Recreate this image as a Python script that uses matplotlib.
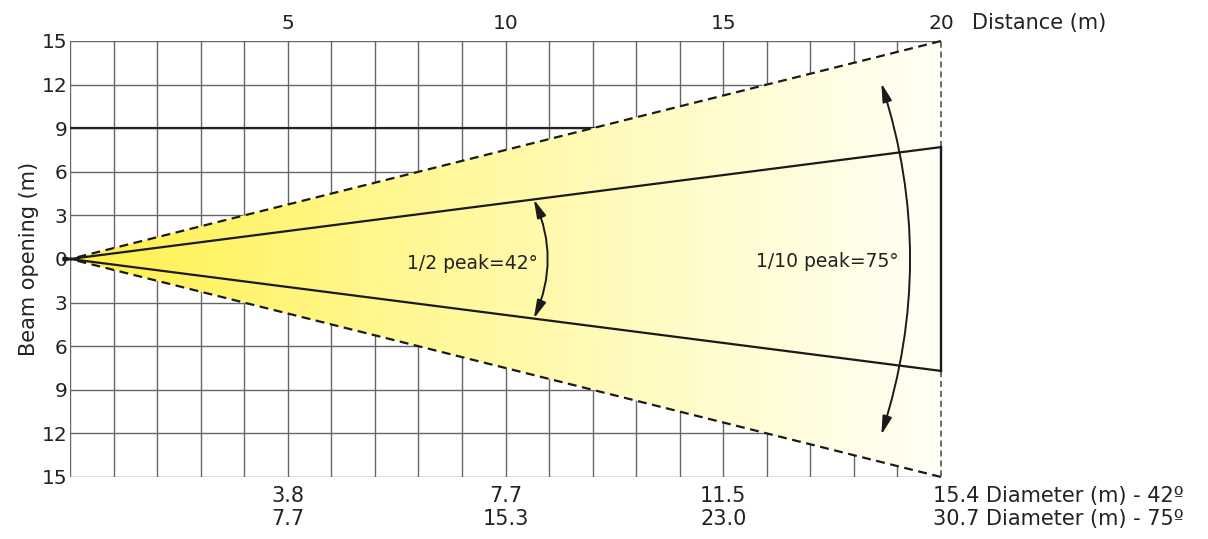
import numpy as np
import matplotlib
matplotlib.use("Agg")
import matplotlib.pyplot as plt
from matplotlib.patches import Polygon, FancyArrowPatch
from matplotlib.colors import LinearSegmentedColormap
from matplotlib.transforms import ScaledTranslation

# values
distance_ticks = [5, 10, 15, 20]
diam_42 = [3.8, 7.7, 11.5, 15.4]
diam_75 = [7.7, 15.3, 23.0, 30.7]
y_ticks = [15, 12, 9, 6, 3, 0, -3, -6, -9, -12, -15]
max_dist = 20
half_inner = 7.7     # 1/2 peak edge at 20 m
half_outer = 15.0    # 1/10 peak edge at 20 m (as drawn)
arc42_x, arc42_y = 10.65, 4.1
arc75_x, arc75_y = 18.63, 12.1

plt.rcParams['font.family'] = ['DejaVu Sans']
fs = 14.5
fs_big = 15
txt_c = '#222222'

fig = plt.figure(figsize=(12.08, 5.39), dpi=100)
ax = fig.add_axes([70 / 1208, 62 / 539, 871 / 1208, 436 / 539])
ax.set_xlim(0, max_dist)
ax.set_ylim(-15, 15)


def offset(dx_px, dy_px):
    return ax.transData + ScaledTranslation(dx_px / 100, dy_px / 100,
                                            fig.dpi_scale_trans)


grid_c = '#666666'
for x in range(0, max_dist):
    ax.axvline(x, color=grid_c, lw=1.0, zorder=1)
for y in y_ticks:
    ax.axhline(y, color=grid_c, lw=1.0, zorder=1)
ax.hlines(9, 0, max_dist, color='#222222', lw=1.6, zorder=1.5)

# gradient fill inside the cone
cmap = LinearSegmentedColormap.from_list(
    'beam', ['#fff04a', '#fff78a', '#fffbc2', '#fffff6'])
grad = np.linspace(0, 1, 256).reshape(1, -1)
im = ax.imshow(grad, cmap=cmap, extent=[0, max_dist, -15, 15],
               aspect='auto', zorder=2, interpolation='bilinear')
cone = Polygon([(0, 0), (max_dist, half_outer), (max_dist, -half_outer)],
               closed=True, facecolor='none', edgecolor='none')
ax.add_patch(cone)
im.set_clip_path(cone)

# beam edges
x0 = -0.15
for s in (1, -1):
    ax.plot([x0, max_dist], [s * half_outer * x0 / max_dist, s * half_outer],
            color='#1a1a1a', lw=1.6, ls=(0, (4, 2.5)), zorder=4, clip_on=False)
    ax.plot([x0, max_dist], [s * half_inner * x0 / max_dist, s * half_inner],
            color='#1a1a1a', lw=1.6, zorder=4, clip_on=False)
    ax.plot([max_dist, max_dist], [s * half_inner, s * half_outer],
            color='#444444', lw=1.1, ls=(0, (4, 2.5)), zorder=4, clip_on=False)
ax.plot([max_dist, max_dist], [-half_inner, half_inner],
        color='#1a1a1a', lw=1.7, zorder=4, clip_on=False)

# angle arrows
for (ax_x, ax_y, rad) in ((arc42_x, arc42_y, 0.22), (arc75_x, arc75_y, 0.16)):
    arr = FancyArrowPatch((ax_x, -ax_y), (ax_x, ax_y),
                          connectionstyle=f"arc3,rad={rad}",
                          arrowstyle='<|-|>,head_length=0.55,head_width=0.14',
                          mutation_scale=20, color='#1a1a1a', lw=1.4,
                          shrinkA=0, shrinkB=0, zorder=5)
    ax.add_patch(arr)

ax.text(9.23, -0.3, '1/2 peak=42°', fontsize=13.5, ha='center',
        va='center', color=txt_c, zorder=6)
ax.text(17.4, -0.2, '1/10 peak=75°', fontsize=13.5, ha='center',
        va='center', color=txt_c, zorder=6)

for sp in ax.spines.values():
    sp.set_visible(False)

ax.set_yticks(y_ticks)
ax.set_yticklabels([str(abs(v)) for v in y_ticks], fontsize=fs, color=txt_c)
ax.tick_params(axis='y', length=0, pad=2)
ax.set_ylabel('Beam opening (m)', fontsize=fs_big, color=txt_c, labelpad=2)

ax.xaxis.tick_top()
ax.set_xticks(distance_ticks)
ax.set_xticklabels([str(v) for v in distance_ticks], fontsize=fs, color=txt_c)
ax.tick_params(axis='x', length=0, pad=6)
ax.text(max_dist, 15, 'Distance (m)', fontsize=fs_big, color=txt_c,
        ha='left', va='baseline', transform=offset(31, 12))

# diameter rows under the grid
for d, a, b in zip(distance_ticks[:-1], diam_42[:-1], diam_75[:-1]):
    ax.text(d, -15, f'{a:.1f}\n{b:.1f}', fontsize=fs_big, color=txt_c,
            ha='center', va='top', linespacing=1.2, transform=offset(0, -9))
ax.text(distance_ticks[-1], -15,
        f'{diam_42[-1]:.1f} Diameter (m) - 42º\n{diam_75[-1]:.1f} Diameter (m) - 75º',
        fontsize=fs_big, color=txt_c, ha='left', va='top', linespacing=1.2,
        transform=offset(-8, -9))

fig.savefig('out.png', dpi=100)
